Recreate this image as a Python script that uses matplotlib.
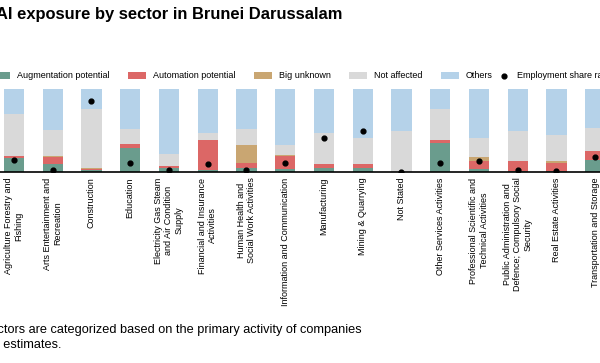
import numpy as np
import matplotlib
matplotlib.use('Agg')
import matplotlib.pyplot as plt

plt.rcParams['font.family'] = ['Liberation Sans', 'DejaVu Sans']

sectors = [
    "Agriculture Forestry and\nFishing",
    "Arts Entertainment and\nRecreation",
    "Construction",
    "Education",
    "Electricity Gas Steam\nand Air Condition\nSupply",
    "Financial and Insurance\nActivities",
    "Human Health and\nSocial Work Activities",
    "Information and Communication",
    "Manufacturing",
    "Mining & Quarrying",
    "Not Stated",
    "Other Services Activities",
    "Professional Scientific and\nTechnical Activities",
    "Public Administration and\nDefence; Compulsory Social\nSecurity",
    "Real Estate Activities",
    "Transportation and Storage",
]

# shares in percent
augmentation = [17, 10, 2, 28.5, 4.5, 3, 4.5, 4, 5, 5, 0, 34.5, 4, 1, 1, 15]
automation = [2.5, 7.5, 2, 5, 3, 36, 6.5, 15, 5, 5, 0.5, 4, 9, 12, 9.5, 10]
big_unknown = [0, 1.5, 1, 0, 0, 0, 21, 1, 0, 0, 0, 0, 5.5, 0, 3, 0]
not_affected = [50, 31.5, 71, 18, 14.5, 8.5, 20, 12.5, 37, 31, 49.5, 37.5, 23, 36, 31, 28.5]
others = [30.5, 49.5, 24, 48.5, 78, 52.5, 48, 67.5, 53, 59, 50, 24, 58.5, 51, 55.5, 46.5]
employment = [15, 3, 85, 11, 2.5, 9.5, 2.5, 11, 41, 49, 0, 11, 13, 2, 1.5, 17.5]

series = [
    ("Augmentation potential", augmentation, "#6a9c8d"),
    ("Automation potential", automation, "#dc6766"),
    ("Big unknown", big_unknown, "#c9a672"),
    ("Not affected", not_affected, "#d9d9d9"),
    ("Others", others, "#b5d2e9"),
]

fig = plt.figure(figsize=(6, 3.63), dpi=100)
ax = fig.add_axes([0, 1 - 172 / 363, 1, 83 / 363])

x = np.arange(len(sectors))
bottom = np.zeros(len(sectors))
handles = []
for name, vals, color in series:
    vals = np.array(vals) / 100
    h = ax.bar(x, vals, width=0.52, bottom=bottom, color=color, label=name)
    handles.append(h)
    bottom += vals

dots = ax.scatter(x, np.array(employment) / 100, s=12, color="black", zorder=3,
                  label="Employment share rate")

ax.set_xlim(-14 / 38.75, 586 / 38.75)
ax.set_ylim(0, 1)
ax.set_yticks([])
ax.set_xticks(x)
ax.set_xticklabels(sectors, rotation=90, fontsize=6.5, va="top", ha="center")
ax.tick_params(axis="x", length=0, pad=4)
for side in ["top", "right", "left"]:
    ax.spines[side].set_visible(False)
ax.spines["bottom"].set_linewidth(1.2)

leg_y = 1 - 76 / 363
labels = [h.get_label() for h in handles]
leg1 = fig.legend(handles, labels, loc="center left", bbox_to_anchor=(-8 / 600, leg_y),
                  ncol=5, frameon=False, fontsize=6.5, handlelength=2.0, handleheight=0.9,
                  columnspacing=2.0, handletextpad=0.8, borderaxespad=0, borderpad=0)
fig.legend([dots], [dots.get_label()], loc="center left", bbox_to_anchor=(499 / 600, leg_y),
           frameon=False, fontsize=6.5, handlelength=1.2, handletextpad=0.8,
           borderaxespad=0, borderpad=0)

fig.text(342 / 600, 1 - 14 / 363, "AI exposure by sector in Brunei Darussalam",
         ha="right", va="center", fontsize=11.9, fontweight="bold")
fig.text(362 / 600, 1 - 330 / 363,
         "Note: Sectors are categorized based on the primary activity of companies",
         ha="right", va="center", fontsize=9.2)
fig.text(62 / 600, 1 - 345 / 363, "Source: ILO estimates.",
         ha="right", va="center", fontsize=9.2)

fig.savefig("out.png", dpi=100)
plt.close(fig)
